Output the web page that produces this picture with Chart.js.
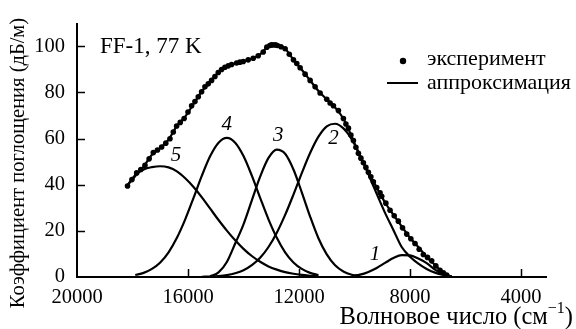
<!DOCTYPE html>
<html>
<head>
<meta charset="utf-8">
<script src="https://cdn.jsdelivr.net/npm/chart.js@4.4.1/dist/chart.umd.min.js"></script>
<style>
  html, body { margin: 0; padding: 0; background: #fff; }
  #wrap { width: 576px; height: 329px; }
</style>
</head>
<body>
<div id="wrap"><canvas id="absChart" width="576" height="329"></canvas></div>
<script>
// wavenumber grid for the fitted curves (cm^-1)
const waveGrid = [18200, 17900, 17600, 17300, 17000, 16700, 16400, 16100, 15800, 15500,
                  15200, 14900, 14600, 14300, 14000, 13700, 13400, 13100, 12800, 12500,
                  12200, 11900, 11600, 11300, 11000, 10700, 10400, 10100, 9800, 9500,
                  9200, 8900, 8600, 8300, 8000, 7700, 7400, 7100, 6800, 6500];

// approximation (sum of the bands), dB/m
const approxFit = [39.4, 43.8, 47.8, 53.0, 55.9, 59.5, 65.5, 69.5, 75.0, 80.5,
                   84.5, 88.7, 91.2, 92.5, 93.5, 94.6, 96.5, 100.0, 100.5, 98.9,
                   94.1, 89.8, 85.2, 80.6, 77.0, 73.5, 68.6, 60.8, 52.2, 45.4,
                   38.8, 32.3, 27.0, 21.9, 17.0, 13.0, 8.7, 5.2, 1.8, 0];

// gaussian bands 1..5
const band5 = [39.4, 44.2, 46.6, 47.6, 48, 47.5, 45.8, 42.8, 39.0, 34.5,
               29.6, 24.7, 20.1, 15.9, 12.2, 9.1, 6.6, 4.6, 3.2, 2.1,
               1.4, 0.9, 0.5, 0.3, null, null, null, null, null, null,
               null, null, null, null, null, null, null, null, null, null];
const band4 = [null, 0.85, 1.8, 3.5, 6.3, 10.7, 17.0, 25.0, 34.3, 43.9,
               52.4, 58.2, 60.3, 58.2, 52.4, 43.9, 34.3, 25.0, 17.0, 10.7,
               6.3, 3.5, 1.8, 0.85, null, null, null, null, null, null,
               null, null, null, null, null, null, null, null, null, null];
const band3 = [null, null, null, null, null, null, null, null, null, null,
               0.3, 2.0, 6.5, 14.5, 22.8, 33.2, 43.5, 51.6, 55.2, 53.4,
               46.6, 36.7, 26.2, 16.8, 9.8, 5.1, 2.4, 1.0, 0.4, null,
               null, null, null, null, null, null, null, null, null, null];
const band2 = [null, null, null, null, null, null, null, null, null, 0.1,
               0.2, 0.4, 0.8, 1.6, 2.9, 5.1, 8.3, 13.0, 19.2, 26.9,
               35.7, 45.0, 53.7, 60.8, 65.3, 66.4, 64.4, 59.7, 52.8, 44.6,
               36.0, 27.8, 20.4, 13.0, 8.8, 5.8, 3.5, 1.9, 0.9, 0.3];
const band1 = [null, null, null, null, null, null, null, null, null, null,
               null, null, null, null, null, null, null, null, null, null,
               null, null, null, null, null, null, null, 0.4, 1.0, 2.2,
               3.9, 6.1, 8.2, 9.5, 9.4, 8.0, 6.0, 3.2, 1.2, 0.3];

// experimental points
const expWave = [18180, 18020, 17850, 17700, 17550, 17400, 17250, 17100, 16950, 16800,
                 16650, 16530, 16410, 16280, 16140, 16000, 15870, 15750, 15630, 15510,
                 15390, 15270, 15150, 15030, 14910, 14790, 14670, 14550, 14430, 14250,
                 14130, 14010, 13830, 13650, 13470, 13290, 13160, 13050, 12990, 12930,
                 12850, 12780, 12650, 12500, 12350, 12200, 12080, 11960, 11780, 11600,
                 11420, 11240, 11000, 10880, 10760, 10580, 10400, 10310, 10220, 10130,
                 10040, 9950, 9860, 9770, 9680, 9590, 9500, 9410, 9320, 9200,
                 9080, 9020, 8870, 8720, 8570, 8420, 8270, 8120, 7970, 7820,
                 7670, 7520, 7370, 7220, 7070, 6920, 6800, 6680];
const expAbs = [39.4, 42.2, 45.1, 46.6, 48.4, 51.2, 53.9, 55.0, 56.3, 58.0,
                59.9, 62.8, 65.4, 67.0, 68.7, 71.5, 74.2, 76.0, 78.1, 80.3,
                82.4, 83.7, 85.2, 86.9, 88.6, 89.9, 90.9, 91.5, 92.1, 92.7,
                93.1, 93.4, 94.1, 94.8, 95.9, 97.5, 99.6, 100.3, 100.6, 100.5,
                100.6, 100.3, 99.8, 98.9, 96.5, 94.1, 92.5, 90.7, 87.9, 85.2,
                82.4, 79.7, 77.0, 75.4, 74.2, 72.1, 68.7, 66.3, 64.5, 61.5,
                59.1, 56.2, 53.6, 51.5, 49.5, 47.5, 45.4, 43.4, 41.3, 38.8,
                36.5, 35.0, 32.0, 28.9, 26.5, 24.2, 21.3, 18.6, 16.6, 14.5,
                12.0, 9.75, 8.5, 7.0, 4.8, 2.9, 1.8, 0.8];

const xTickValues = [20000, 16000, 12000, 8000, 4000];
const yTickValues = [0, 20, 40, 60, 80, 100];

const serif = '"Liberation Serif", "Times New Roman", serif';

function toPoints(xs, ys) {
    return xs.map((x, i) => ({ x: x, y: ys[i] })).filter(p => p.y !== null);
}

function curve(label, ys) {
    return {
        label: label,
        data: toPoints(waveGrid, ys),
        borderColor: '#000',
        borderWidth: 2.2,
        pointRadius: 0,
        fill: false,
        cubicInterpolationMode: 'monotone'
    };
}

// numbers of the bands, axis ticks inside, legend and captions
const annotate = {
    id: 'annotate',
    afterDraw(chart) {
        const ctx = chart.ctx;
        const a = chart.chartArea;
        const x = chart.scales.x;
        const y = chart.scales.y;
        ctx.save();
        ctx.strokeStyle = '#000';
        ctx.fillStyle = '#000';
        ctx.lineWidth = 1.5;

        xTickValues.slice(1).forEach(v => {
            const px = Math.round(x.getPixelForValue(v)) + 0.5;
            ctx.beginPath();
            ctx.moveTo(px, a.bottom);
            ctx.lineTo(px, a.bottom - 8);
            ctx.stroke();
        });
        yTickValues.slice(1).forEach(v => {
            const py = Math.round(y.getPixelForValue(v)) + 0.5;
            ctx.beginPath();
            ctx.moveTo(a.left, py);
            ctx.lineTo(a.left + 8, py);
            ctx.stroke();
        });

        const bandNames = [['5', 16430, 52.5], ['4', 14600, 66], ['3', 12750, 61.5],
                           ['2', 10760, 60], ['1', 9260, 9.8]];
        ctx.font = 'italic 21px ' + serif;
        ctx.textAlign = 'center';
        ctx.textBaseline = 'middle';
        bandNames.forEach(b => {
            ctx.fillText(b[0], x.getPixelForValue(b[1]), y.getPixelForValue(b[2]));
        });

        ctx.textBaseline = 'alphabetic';
        ctx.textAlign = 'left';
        ctx.font = '23px ' + serif;
        ctx.fillText('FF-1, 77 K', 100, 53);

        // legend
        ctx.beginPath();
        ctx.arc(403, 61, 3.2, 0, Math.PI * 2);
        ctx.fill();
        ctx.lineWidth = 2;
        ctx.beginPath();
        ctx.moveTo(387, 83);
        ctx.lineTo(418, 83);
        ctx.stroke();
        ctx.font = '22px ' + serif;
        ctx.fillText('эксперимент', 427, 65);
        ctx.fillText('аппроксимация', 427, 89);

        // x title with superscript
        ctx.font = '24.5px ' + serif;
        const main = 'Волновое число (см';
        const wMain = ctx.measureText(main).width;
        const wClose = ctx.measureText(')').width;
        ctx.font = '16px ' + serif;
        const wSup = ctx.measureText('−1').width;
        let tx = 573 - wMain - wSup - wClose;
        ctx.font = '24.5px ' + serif;
        ctx.fillText(main, tx, 324);
        ctx.font = '16px ' + serif;
        ctx.fillText('−1', tx + wMain, 313);
        ctx.font = '24.5px ' + serif;
        ctx.fillText(')', tx + wMain + wSup, 324);

        // y title
        ctx.font = '20.5px ' + serif;
        ctx.translate(18.5, 163);
        ctx.rotate(-Math.PI / 2);
        ctx.textAlign = 'center';
        ctx.textBaseline = 'middle';
        ctx.fillText('Коэффициент поглощения (дБ/м)', 0, 0);
        ctx.restore();
    }
};

const absCtx = document.getElementById('absChart').getContext('2d');
const absChart = new Chart(absCtx, {
    type: 'line',
    data: {
        datasets: [
            {
                label: 'эксперимент',
                data: toPoints(expWave, expAbs),
                showLine: false,
                pointRadius: 2.8,
                pointBackgroundColor: '#000',
                pointBorderWidth: 0
            },
            curve('аппроксимация', approxFit),
            curve('1', band1),
            curve('2', band2),
            curve('3', band3),
            curve('4', band4),
            curve('5', band5)
        ]
    },
    options: {
        responsive: false,
        animation: false,
        devicePixelRatio: 1,
        layout: { padding: { top: 13, right: 30, left: 0, bottom: 0 } },
        plugins: {
            legend: { display: false },
            tooltip: { enabled: false }
        },
        scales: {
            x: {
                type: 'linear',
                reverse: true,
                min: 3100,
                max: 20000,
                afterBuildTicks: s => { s.ticks = xTickValues.map(v => ({ value: v })); },
                afterFit: s => { s.height = 52; },
                grid: { display: false, drawTicks: false },
                border: { display: true, color: '#000', width: 2 },
                ticks: {
                    color: '#000',
                    font: { family: serif, size: 20.5 },
                    padding: 8,
                    maxRotation: 0,
                    autoSkip: false,
                    callback: v => String(v)
                }
            },
            y: {
                min: 0,
                max: 109.5,
                afterBuildTicks: s => { s.ticks = yTickValues.map(v => ({ value: v })); },
                afterFit: s => { s.width = 77; },
                grid: { display: false, drawTicks: false },
                border: { display: true, color: '#000', width: 2 },
                ticks: {
                    color: '#000',
                    font: { family: serif, size: 20.5 },
                    padding: 12,
                    callback: v => String(v)
                }
            }
        }
    },
    plugins: [annotate]
});
</script>
</body>
</html>
